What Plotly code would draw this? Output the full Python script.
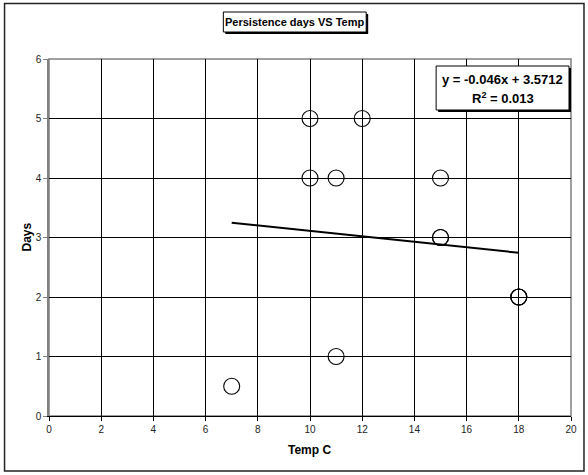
import plotly.graph_objects as go

# Observations: water temperature (C) and persistence (days)
temp_c = [7, 10, 10, 11, 11, 12, 15, 15, 15, 18, 18, 18]
days = [0.5, 5, 4, 4, 1, 5, 4, 3, 3, 2, 2, 2]

# Linear trendline and its statistics
slope = -0.046
intercept = 3.5712
r_squared = 0.013

x_ticks = list(range(0, 21, 2))
y_ticks = list(range(0, 7, 1))

W, H = 588, 475
L, R, T, B = 48.5, 17, 59, 59
PW, PH = W - L - R, H - T - B


def px(x):
    return (x - L) / PW


def py(y):
    return (H - B - y) / PH


fig = go.Figure()

# Trendline across the observed temperature range
x_line = [min(temp_c), max(temp_c)]
y_line = [slope * x + intercept for x in x_line]
fig.add_trace(go.Scatter(
    x=x_line, y=y_line, mode="lines",
    line=dict(color="black", width=2), hoverinfo="skip", showlegend=False,
))

fig.add_trace(go.Scatter(
    x=temp_c, y=days, mode="markers",
    marker=dict(symbol="circle-open", size=16, color="black", line=dict(width=1.1)),
    showlegend=False,
))

font = "Liberation Sans, Arial, sans-serif"

shapes = []
# Chart frame
shapes.append(dict(type="rect", xref="paper", yref="paper",
                   x0=px(4), x1=px(584), y0=py(3.5), y1=py(471),
                   line=dict(color="#222", width=1.5), fillcolor="rgba(0,0,0,0)",
                   layer="below"))
# Plot area border
shapes.append(dict(type="rect", xref="paper", yref="paper",
                   x0=0, x1=1, y0=0, y1=1,
                   line=dict(color="#808080", width=1.5), layer="below"))


def boxed(x0, x1, y0, y1):
    # shadow then box
    shapes.append(dict(type="rect", xref="paper", yref="paper",
                       x0=px(x0 + 2), x1=px(x1 + 2), y0=py(y0 + 2), y1=py(y1 + 2),
                       line=dict(width=0), fillcolor="black", layer="above"))
    shapes.append(dict(type="rect", xref="paper", yref="paper",
                       x0=px(x0), x1=px(x1), y0=py(y0), y1=py(y1),
                       line=dict(color="black", width=1), fillcolor="white", layer="above"))


boxed(223, 366, 12, 32)
boxed(436, 569, 66, 110)

annotations = [
    dict(text="<b>Persistence days VS Temp</b>", xref="paper", yref="paper",
         x=px(294.5), y=py(22), showarrow=False, xanchor="center", yanchor="middle",
         font=dict(family=font, size=11, color="black")),
    dict(text=f"<b>y = {slope}x + {intercept}</b>", xref="paper", yref="paper",
         x=px(502.5), y=py(79), showarrow=False, xanchor="center", yanchor="middle",
         font=dict(family=font, size=13, color="black")),
    dict(text=f"<b>R<sup>2</sup> = {r_squared}</b>", xref="paper", yref="paper",
         x=px(502.5), y=py(98), showarrow=False, xanchor="center", yanchor="middle",
         font=dict(family=font, size=13, color="black")),
    dict(text="<b>Temp C</b>", xref="paper", yref="paper",
         x=px(309), y=py(450), showarrow=False, xanchor="center", yanchor="middle",
         font=dict(family=font, size=12, color="black")),
    dict(text="<b>Days</b>", xref="paper", yref="paper", textangle=-90,
         x=px(26), y=py(237), showarrow=False, xanchor="center", yanchor="middle",
         font=dict(family=font, size=12, color="black")),
]

fig.update_layout(
    width=W, height=H,
    margin=dict(l=L, r=R, t=T, b=B, pad=0),
    paper_bgcolor="white", plot_bgcolor="white",
    shapes=shapes, annotations=annotations,
    font=dict(family=font, size=10, color="black"),
    xaxis=dict(
        range=[0, 20], tickvals=x_ticks, ticktext=[str(v) for v in x_ticks],
        showgrid=True, gridcolor="black", gridwidth=1, zeroline=False,
        showline=True, linecolor="black", linewidth=1.2,
        ticks="outside", ticklen=4, tickcolor="black",
        tickfont=dict(family=font, size=10, color="#222"),
    ),
    yaxis=dict(
        range=[0, 6], tickvals=y_ticks, ticktext=[str(v) for v in y_ticks],
        showgrid=True, gridcolor="black", gridwidth=1, zeroline=False,
        showline=True, linecolor="#808080", linewidth=1.5,
        ticks="outside", ticklen=4, tickcolor="#808080",
        tickfont=dict(family=font, size=10, color="#222"),
    ),
)

fig.write_html("out.html")
